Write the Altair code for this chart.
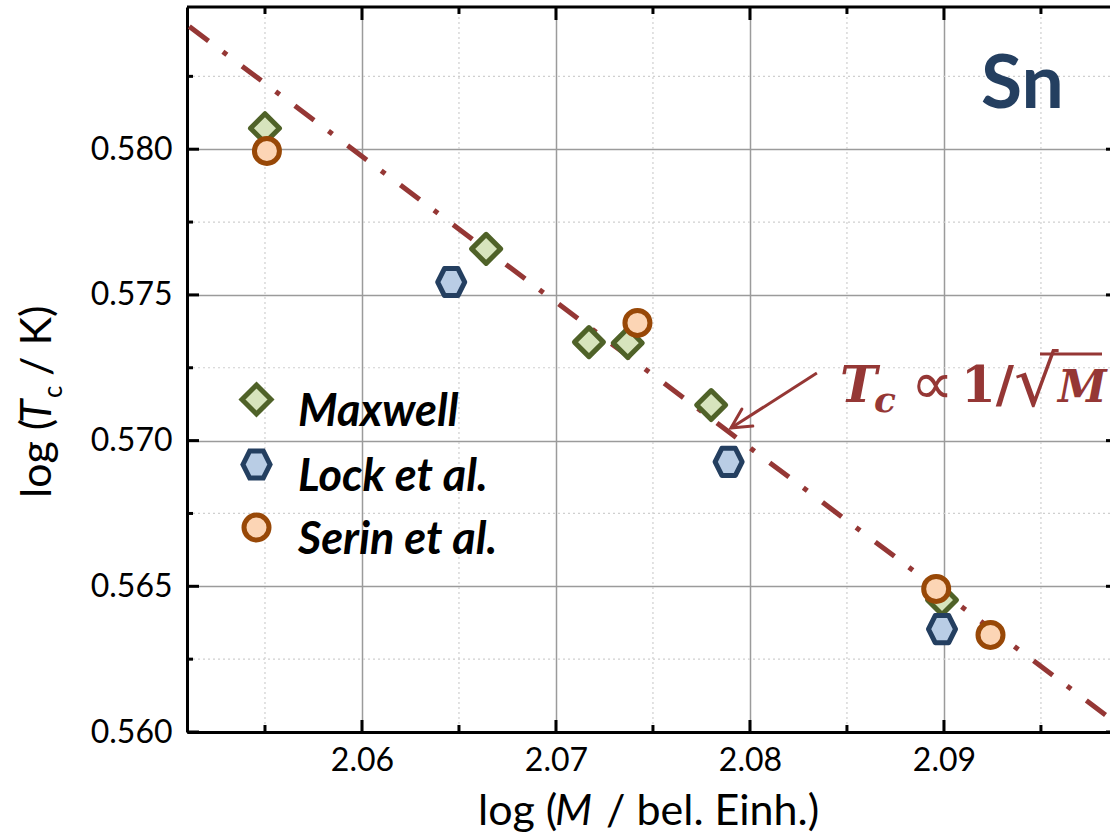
import altair as alt
import pandas as pd

# ---------------- data ----------------
maxwell_x = [2.0550, 2.0664, 2.0717, 2.0737, 2.0780, 2.0899]
maxwell_y = [0.58072, 0.57658, 0.57338, 0.57335, 0.57122, 0.56453]
lock_x = [2.0646, 2.0789, 2.0899]
lock_y = [0.57544, 0.56927, 0.56353]
serin_x = [2.0551, 2.0742, 2.0896, 2.0924]
serin_y = [0.57994, 0.57404, 0.56491, 0.56333]
series_names = ["Maxwell", "Lock et al.", "Serin et al."]

fit_x = [2.0511, 2.0985]     # dash-dot line T_c ~ 1/sqrt(M), endpoints
fit_y = [0.58421, 0.56050]

arrow_x = [2.08345, 2.07902]  # tail, tip
arrow_y = [0.57232, 0.57043]

x_major = [2.06, 2.07, 2.08, 2.09]
x_minor = [2.055, 2.065, 2.075, 2.085, 2.095]
y_major = [0.560, 0.565, 0.570, 0.575, 0.580]
y_minor = [0.5625, 0.5675, 0.5725, 0.5775, 0.5825]

X_MIN, X_MAX = 2.05098, 2.09856
Y_MIN, Y_MAX = 0.560, 0.58488

# ---------------- layout / styles ----------------
W, H = 923, 725
PAD_L, PAD_T = 187, 7
FONT = "Lato"
RED = "#953735"
fills = ["#d7e4bd", "#b9cde5", "#fcd5b5"]
strokes = ["#4f6228", "#243f60", "#984807"]
sizes = [841, 625, 576]
diamond = "M0,-1L1,0L0,1L-1,0Z"
hexagon = "M-1,0L-0.5,-1L0.5,-1L1,0L0.5,1L-0.5,1Z"
shapes = [diamond, hexagon, "circle"]

xs = alt.Scale(domain=[X_MIN, X_MAX], nice=False, zero=False)
ys = alt.Scale(domain=[Y_MIN, Y_MAX], nice=False, zero=False)

AX = alt.Axis(values=x_major, format=".2f", title=None, grid=True,
              gridColor="#9b9b9b", gridWidth=1.5, ticks=False, tickSize=0,
              domainColor="black", domainWidth=3, labelFont=FONT, labelFontSize=32,
              labelColor="black", labelPadding=13)
AY = alt.Axis(values=y_major, format=".3f", title=None, grid=True,
              gridColor="#9b9b9b", gridWidth=1.5, ticks=False, tickSize=0,
              domainColor="black", domainWidth=3, labelFont=FONT, labelFontSize=32,
              labelColor="black", labelPadding=15)


def X(f):
    return alt.X(f, scale=xs, axis=AX)


def Y(f):
    return alt.Y(f, scale=ys, axis=AY)


pts = pd.DataFrame({
    "x": maxwell_x + lock_x + serin_x,
    "y": maxwell_y + lock_y + serin_y,
    "series": [series_names[0]] * len(maxwell_x)
    + [series_names[1]] * len(lock_x)
    + [series_names[2]] * len(serin_x),
})
pts["order"] = range(len(pts))

# ---------------- grids ----------------
minor_x = alt.Chart(pd.DataFrame({"v": x_minor})).mark_rule(
    color="#cfcfcf", strokeWidth=1.2, strokeDash=[2, 3]
).encode(x=X("v:Q"))
minor_y = alt.Chart(pd.DataFrame({"v": y_minor})).mark_rule(
    color="#cfcfcf", strokeWidth=1.2, strokeDash=[2, 3]
).encode(y=Y("v:Q"))

# ---------------- fit line ----------------
fit = alt.Chart(pd.DataFrame({"x": fit_x, "y": fit_y})).mark_line(
    color=RED, strokeWidth=5, strokeDash=[24, 18, 5, 19], strokeCap="butt"
).encode(x=X("x:Q"), y=Y("y:Q"))

# ---------------- points with legend ----------------
points = alt.Chart(pts).mark_point(
    filled=True, opacity=1, strokeWidth=5, strokeJoin="round"
).encode(
    x=X("x:Q"),
    y=Y("y:Q"),
    shape=alt.Shape("series:N", scale=alt.Scale(domain=series_names, range=shapes),
                    legend=alt.Legend(
                        orient="none", legendX=47, legendY=370, title=None,
                        labelFont=FONT, labelFontSize=45, labelFontWeight="bold",
                        labelFontStyle="italic", labelColor="black", labelLimit=500,
                        symbolStrokeWidth=5, rowPadding=5, labelOffset=19,
                        labelBaseline="line-top", padding=0)),
    fill=alt.Fill("series:N", scale=alt.Scale(domain=series_names, range=fills)),
    stroke=alt.Stroke("series:N", scale=alt.Scale(domain=series_names, range=strokes)),
    size=alt.Size("series:N", scale=alt.Scale(domain=series_names, range=sizes)),
    order=alt.Order("order:Q"),
)


# ---------------- ticks (inward) ----------------
def xticks(vals, length, bottom=True):
    y0 = H if bottom else 0
    y1 = H - length if bottom else length
    return alt.Chart(pd.DataFrame({"v": vals})).mark_rule(color="black", strokeWidth=3).encode(
        x=X("v:Q"), y=alt.value(y0), y2=alt.value(y1))


def yticks(vals, length, left=True):
    x0 = 0 if left else W
    x1 = length if left else W - length
    return alt.Chart(pd.DataFrame({"v": vals})).mark_rule(color="black", strokeWidth=3).encode(
        y=Y("v:Q"), x=alt.value(x0), x2=alt.value(x1))


ticks = [
    xticks(x_major, 12, True), xticks(x_minor, 7, True),
    xticks(x_major, 13, False), xticks(x_minor, 7, False),
    yticks(y_major, 12, True), yticks(y_minor, 6, True),
    yticks(y_major, 4, False),
]

top_frame = alt.Chart(pd.DataFrame({"v": [Y_MAX]})).mark_rule(color="black", strokeWidth=3).encode(
    y=Y("v:Q"), x=alt.value(0), x2=alt.value(W))

# ---------------- arrow ----------------
arrow_line = alt.Chart(pd.DataFrame({"x": arrow_x, "y": arrow_y})).mark_line(
    color=RED, strokeWidth=3).encode(x=X("x:Q"), y=Y("y:Q"))
arrow_head = alt.Chart(pd.DataFrame({"x": [arrow_x[1]], "y": [arrow_y[1]]})).mark_point(
    shape="M-1,-0.52L0,0L-1,0.52", size=1521, angle=147.4, filled=False,
    stroke=RED, strokeWidth=3, opacity=1, strokeCap="round").encode(
    x=X("x:Q"), y=Y("y:Q"))


# ---------------- texts ----------------
def txt(s, x, y, size, font=FONT, weight="normal", style="normal", color="black",
        angle=0, align="left", baseline="alphabetic"):
    kw = dict(text=s, font=font, fontSize=size, fontWeight=weight, fontStyle=style,
              color=color, align=align, baseline=baseline)
    if angle:
        kw["angle"] = angle
    return alt.Chart(pd.DataFrame({"a": [0]})).mark_text(**kw).encode(
        x=alt.value(x - PAD_L), y=alt.value(y - PAD_T))


texts = [
    # Sn
    txt("Sn", 981, 108, 75, weight="bold", color="#243f60"),
    # x title
    txt("log (", 478, 825, 43),
    txt("M", 555, 825, 43, style="italic"),
    txt("/ bel. Einh.)", 606, 825, 43),
    # y title (rotated)
    txt("log (", 51, 498, 43, angle=270),
    txt("T", 51, 423, 43, style="italic", angle=270),
    txt("c", 62, 398, 26, angle=270),
    txt("/ K)", 51, 376, 43, angle=270),
    # formula
    txt("T", 840, 402, 50, font="DejaVu Serif", weight="bold", style="italic", color=RED),
    txt("c", 874, 412, 36, font="DejaVu Serif", weight="bold", style="italic", color=RED),
    txt("\u221d", 911, 404, 60, font="DejaVu Sans", color=RED),
    txt("1/", 961, 402, 50, font="DejaVu Serif", weight="bold", color=RED),
    txt("\u221a", 1014, 406, 70, font="DejaVu Sans", color=RED),
    txt("M", 1058, 402, 44, font="DejaVu Serif", weight="bold", style="italic", color=RED),
]
overline = alt.Chart(pd.DataFrame({"a": [0]})).mark_rule(color=RED, strokeWidth=3).encode(
    x=alt.value(1040 - PAD_L), x2=alt.value(1102 - PAD_L), y=alt.value(354 - PAD_T))

chart = alt.layer(
    minor_x, minor_y, fit, *ticks, top_frame, arrow_line, arrow_head, points, overline, *texts
).properties(
    width=W, height=H,
    autosize=alt.AutoSizeParams(type="none"),
    padding={"left": PAD_L, "top": PAD_T, "right": 0, "bottom": 837 - PAD_T - H},
    background="white",
).configure_view(stroke=None).configure(
    style={"guide-label": {"lineHeight": 26}}
)

chart.save("out.html", embed_options={"renderer": "svg", "actions": False})
